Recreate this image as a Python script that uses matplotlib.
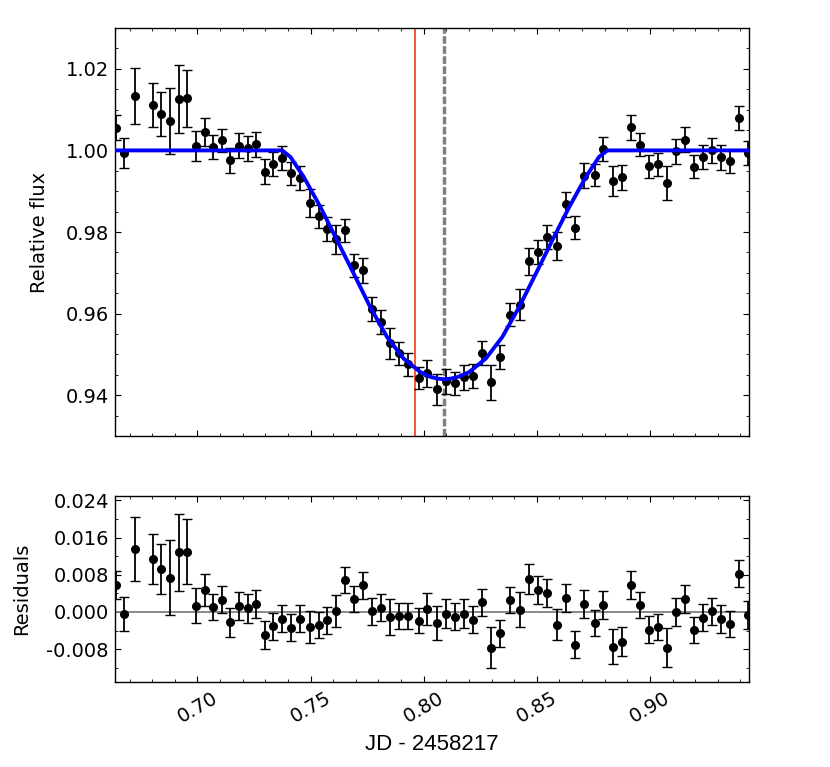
import matplotlib
matplotlib.use('Agg')
import matplotlib.pyplot as plt
import numpy as np
from matplotlib.ticker import MultipleLocator, FormatStrFormatter

jd = [0.66390, 0.66756, 0.67229, 0.68036, 0.68407, 0.68786, 0.69184, 0.69554,
      0.69951, 0.70318, 0.70684, 0.71068, 0.71452, 0.71831, 0.72215, 0.72599,
      0.72979, 0.73363, 0.73747, 0.74126, 0.74523, 0.74996, 0.75362, 0.75746,
      0.76130, 0.76540, 0.76924, 0.77321, 0.77718, 0.78116, 0.78513, 0.78892,
      0.79290, 0.79806, 0.80159, 0.80587, 0.80984, 0.81381, 0.81778, 0.82189,
      0.82586, 0.82996, 0.83394, 0.83808, 0.84250, 0.84660, 0.85071, 0.85468,
      0.85883, 0.86280, 0.86677, 0.87087, 0.87560, 0.87939, 0.88354, 0.88764,
      0.89161, 0.89559, 0.89956, 0.90353, 0.90750, 0.91147, 0.91558, 0.91955,
      0.92352, 0.92749, 0.93146, 0.93544, 0.93941, 0.94338]

flux = [1.00556, 0.99934, 1.01339, 1.01119, 1.00898, 1.00717, 1.01266, 1.01280,
        1.00115, 1.00458, 1.00081, 1.00245, 0.99755, 1.00115, 1.00049, 1.00147,
        0.99478, 0.99665, 0.99821, 0.99437, 0.99322, 0.98710, 0.98384, 0.98070,
        0.97821, 0.98042, 0.97185, 0.97062, 0.96108, 0.95789, 0.95268, 0.95023,
        0.94761, 0.94411, 0.94534, 0.94142, 0.94340, 0.94289, 0.94436, 0.94468,
        0.95038, 0.94313, 0.94940, 0.95978, 0.96223, 0.97286, 0.97506, 0.97878,
        0.97657, 0.98678, 0.98107, 0.99381, 0.99396, 1.00032, 0.99241, 0.99339,
        1.00563, 1.00140, 0.99608, 0.99657, 0.99209, 0.99976, 1.00262, 0.99600,
        0.99846, 1.00000, 0.99829, 0.99738, 1.00800, 0.99934]

err = [0.0030, 0.0036, 0.0069, 0.0054, 0.0054, 0.0081, 0.0083, 0.0070,
       0.0037, 0.0034, 0.0029, 0.0029, 0.0031, 0.0030, 0.0031, 0.0031,
       0.0030, 0.0029, 0.0029, 0.0029, 0.0029, 0.0034, 0.0028, 0.0029,
       0.0035, 0.0028, 0.0028, 0.0030, 0.0029, 0.0029, 0.0039, 0.0028,
       0.0028, 0.0027, 0.0034, 0.0037, 0.0031, 0.0029, 0.0031, 0.0029,
       0.0029, 0.0044, 0.0029, 0.0028, 0.0038, 0.0033, 0.0030, 0.0030,
       0.0034, 0.0030, 0.0029, 0.0031, 0.0028, 0.0030, 0.0037, 0.0031,
       0.0030, 0.0028, 0.0029, 0.0028, 0.0042, 0.0030, 0.0030, 0.0028,
       0.0029, 0.0030, 0.0030, 0.0028, 0.0029, 0.0030]

resid = [0.00579, -0.00043, 0.01358, 0.01143, 0.00922, 0.00736, 0.01287, 0.01300,
         0.00135, 0.00472, 0.00107, 0.00264, -0.00222, 0.00135, 0.00077, 0.00172,
         -0.00502, -0.00309, -0.00144, -0.00337, -0.00150, -0.00330, -0.00280, -0.00180,
         0.00020, 0.00693, 0.00279, 0.00570, 0.00010, 0.00086, -0.00107, -0.00086,
         -0.00086, -0.00187, 0.00064, -0.00236, -0.00036, -0.00107, -0.00036, -0.00165,
         0.00206, -0.00772, -0.00459, 0.00249, 0.00049, 0.00708, 0.00478, 0.00407,
         -0.00272, 0.00300, -0.00701, 0.00172, -0.00236, 0.00142, -0.00744, -0.00643,
         0.00585, 0.00150, -0.00380, -0.00315, -0.00772, -0.00010, 0.00279, -0.00386,
         -0.00129, 0.00010, -0.00158, -0.00250, 0.00821, -0.00060]

# best-fit transit model
model_jd = [0.6636, 0.7375, 0.7411, 0.7470, 0.7544, 0.7617, 0.7691, 0.7764,
            0.7838, 0.7911, 0.7985, 0.8030, 0.8059, 0.8091, 0.8123, 0.8152,
            0.8202, 0.8275, 0.8348, 0.8422, 0.8496, 0.8569, 0.8643, 0.8717,
            0.8775, 0.8812, 0.9438]
model_flux = [1.0000, 1.0000, 0.9984, 0.9935, 0.9861, 0.9780, 0.9698, 0.9616,
              0.9543, 0.9490, 0.9457, 0.9445, 0.9441, 0.9439, 0.9441, 0.9445,
              0.9457, 0.9490, 0.9543, 0.9616, 0.9698, 0.9780, 0.9861, 0.9935,
              0.9984, 1.0000, 1.0000]

t_red = 0.7963   # red line
t_mid = 0.8091   # grey dashed line
xlim = (0.6636, 0.9438)

plt.rcParams['font.family'] = 'DejaVu Sans'
plt.rcParams['font.size'] = 14
plt.rcParams['axes.unicode_minus'] = False
plt.rcParams['axes.linewidth'] = 1.0
for ax_ in ('xtick', 'ytick'):
    plt.rcParams[ax_ + '.direction'] = 'in'
    plt.rcParams[ax_ + '.major.size'] = 4
    plt.rcParams[ax_ + '.minor.size'] = 2
    plt.rcParams[ax_ + '.major.width'] = 0.8
    plt.rcParams[ax_ + '.minor.width'] = 0.6
    plt.rcParams[ax_ + '.labelsize'] = 14
    plt.rcParams[ax_ + '.major.pad'] = 4.5
plt.rcParams['xtick.top'] = True
plt.rcParams['ytick.right'] = True

fig = plt.figure(figsize=(8.3, 7.67), dpi=100)
ax1 = fig.add_axes([0.1386, 0.4315, 0.7638, 0.532])
ax2 = fig.add_axes([0.1386, 0.1112, 0.7638, 0.2425])

# top panel
ax1.errorbar(jd, flux, yerr=err, fmt='o', color='k', ms=5.5, capsize=3.5,
             elinewidth=1.3, capthick=1.0, zorder=3)
ax1.plot(model_jd, model_flux, '-', color='#0000ff', lw=2.8, zorder=4)
ax1.axvline(t_red, color='#ee3a12', lw=1.2, zorder=2)
ax1.axvline(t_mid, color='gray', lw=2.5, ls='--', dashes=(2.2, 0.7), zorder=2)
ax1.set_xlim(xlim)
ax1.set_ylim(0.93, 1.03)
ax1.set_ylabel('Relative flux', fontsize=14, labelpad=12)
ax1.xaxis.set_major_locator(MultipleLocator(0.05))
ax1.xaxis.set_minor_locator(MultipleLocator(0.01))
ax1.yaxis.set_major_locator(MultipleLocator(0.02))
ax1.yaxis.set_minor_locator(MultipleLocator(0.005))
ax1.yaxis.set_major_formatter(FormatStrFormatter('%.2f'))
ax1.tick_params(labelbottom=False)

# residuals
ax2.errorbar(jd, resid, yerr=err, fmt='o', color='k', ms=5.5, capsize=3.5,
             elinewidth=1.3, capthick=1.0, zorder=3)
ax2.axhline(0.0, color='gray', lw=1.3, zorder=2)
ax2.set_xlim(xlim)
ax2.set_ylim(-0.015, 0.025)
ax2.set_ylabel('Residuals', fontsize=14, labelpad=11)
ax2.set_xlabel('JD - 2458217', family='Liberation Sans', fontsize=16, labelpad=6)
ax2.xaxis.set_major_locator(MultipleLocator(0.05))
ax2.xaxis.set_minor_locator(MultipleLocator(0.01))
ax2.xaxis.set_major_formatter(FormatStrFormatter('%.2f'))
ax2.yaxis.set_major_locator(MultipleLocator(0.008))
ax2.yaxis.set_minor_locator(MultipleLocator(0.004))
ax2.yaxis.set_major_formatter(FormatStrFormatter('%.3f'))
plt.setp(ax2.get_xticklabels(), rotation=30)

fig.savefig('out.png', dpi=100, facecolor='white')
